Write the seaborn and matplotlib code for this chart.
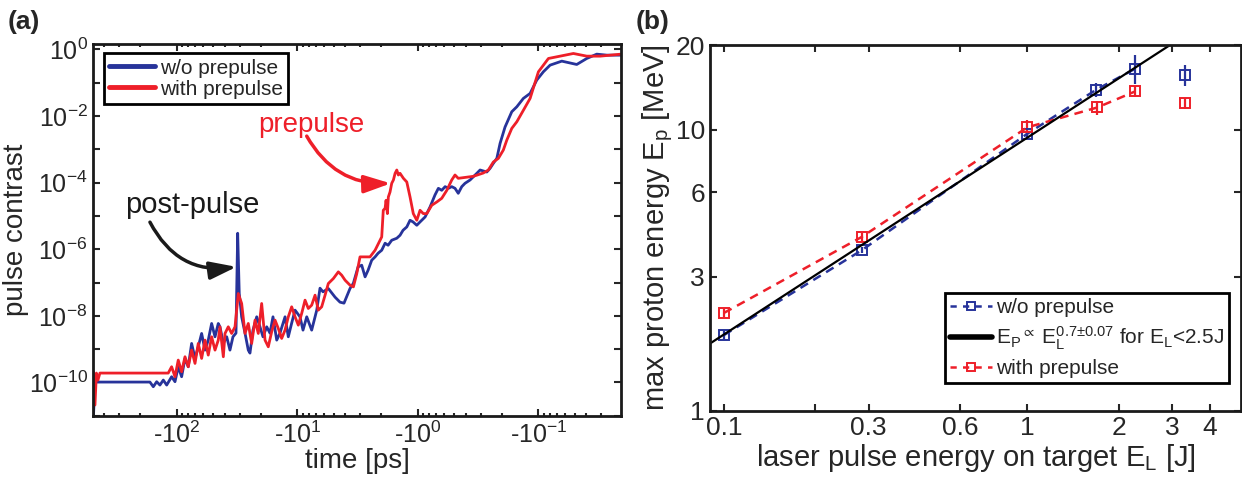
import numpy as np
import matplotlib
matplotlib.use('Agg')
import matplotlib.pyplot as plt
import seaborn as sns
from matplotlib.ticker import FixedLocator, NullLocator, FuncFormatter, LogLocator, NullFormatter
from matplotlib.lines import Line2D

# ---- panel (a): contrast traces, read as log10(|t| / ps) and log10(contrast)
blue_logt = [2.690, 2.678, 2.222, 2.194, 2.166, 2.139, 2.111, 2.083, 2.042, 2.014,
             1.987, 1.959, 1.931, 1.904, 1.876, 1.848, 1.821, 1.793, 1.765, 1.738,
             1.710, 1.682, 1.655, 1.641, 1.613, 1.585, 1.558, 1.533, 1.508, 1.494,
             1.481, 1.461, 1.433, 1.406, 1.392, 1.367, 1.336, 1.309, 1.284, 1.253,
             1.226, 1.201, 1.170, 1.143, 1.101, 1.074, 1.046, 1.018, 0.977, 0.952,
             0.921, 0.880, 0.838, 0.811, 0.786, 0.742, 0.686, 0.645, 0.612, 0.562,
             0.534, 0.495, 0.465, 0.437, 0.412, 0.382, 0.354, 0.329, 0.299, 0.271,
             0.246, 0.216, 0.174, 0.147, 0.122, 0.091, 0.064, 0.039, 0.008, -0.019,
             -0.061, -0.102, -0.143, -0.171, -0.199, -0.227, -0.254, -0.282, -0.309, -0.336,
             -0.365, -0.392, -0.434, -0.490, -0.517, -0.573, -0.600, -0.627, -0.656, -0.683,
             -0.724, -0.780, -0.822, -0.876, -0.932, -0.987, -1.042, -1.098, -1.195, -1.319,
             -1.402, -1.485, -1.568, -1.687]
blue_logc = [-10.98, -9.99, -9.99, -10.13, -9.98, -10.08, -9.93, -10.08, -9.83, -9.98,
             -9.53, -9.83, -9.28, -9.53, -8.83, -9.28, -8.93, -8.53, -9.03, -8.73,
             -8.23, -8.63, -8.23, -8.33, -8.82, -8.63, -9.03, -8.63, -8.52, -5.52,
             -7.33, -8.03, -8.52, -9.03, -9.12, -8.43, -8.03, -8.33, -8.63, -8.33,
             -8.52, -8.03, -8.73, -8.52, -8.03, -8.63, -8.22, -7.83, -8.03, -8.43,
             -8.03, -8.43, -7.83, -7.17, -7.28, -7.18, -7.44, -7.59, -7.62, -7.18,
             -7.02, -6.53, -6.48, -6.83, -6.63, -6.33, -6.23, -6.12, -6.03, -5.82,
             -5.88, -5.73, -5.67, -5.58, -5.43, -5.33, -5.13, -5.18, -5.28, -5.18,
             -5.03, -4.73, -4.37, -4.17, -4.23, -4.12, -4.17, -4.12, -4.17, -4.32,
             -4.12, -4.02, -3.92, -3.72, -3.62, -3.68, -3.57, -3.42, -3.27, -2.82,
             -2.33, -1.87, -1.72, -1.47, -1.32, -0.92, -0.67, -0.47, -0.35, -0.45,
             -0.27, -0.14, -0.17, -0.17]

red_logt = [2.690, 2.678, 2.666, 2.653, 2.637, 2.070, 2.042, 2.014, 1.987, 1.959,
            1.931, 1.904, 1.876, 1.848, 1.821, 1.793, 1.765, 1.738, 1.710, 1.682,
            1.655, 1.641, 1.613, 1.599, 1.572, 1.544, 1.516, 1.489, 1.461, 1.433,
            1.406, 1.378, 1.350, 1.323, 1.295, 1.267, 1.240, 1.212, 1.184, 1.157,
            1.129, 1.101, 1.074, 1.046, 1.018, 0.991, 0.963, 0.935, 0.908, 0.880,
            0.852, 0.825, 0.797, 0.769, 0.742, 0.700, 0.659, 0.631, 0.603, 0.562,
            0.534, 0.506, 0.479, 0.396, 0.354, 0.299, 0.286, 0.271, 0.263, 0.252,
            0.244, 0.230, 0.216, 0.202, 0.188, 0.174, 0.161, 0.147, 0.119, 0.091,
            0.064, 0.037, 0.008, -0.019, -0.046, -0.075, -0.116, -0.158, -0.199, -0.241,
            -0.282, -0.309, -0.336, -0.461, -0.544, -0.586, -0.627, -0.669, -0.710, -0.739,
            -0.780, -0.822, -0.863, -0.932, -1.001, -1.084, -1.181, -1.291, -1.402, -1.513,
            -1.687]
red_logc = [-9.68, -10.68, -9.72, -9.93, -9.72, -9.72, -9.53, -9.83, -9.33, -9.68,
            -9.23, -9.53, -9.03, -9.43, -8.83, -9.28, -8.73, -9.18, -8.63, -9.03,
            -8.73, -8.33, -9.23, -8.53, -8.33, -8.53, -8.33, -7.33, -7.63, -8.53,
            -8.23, -8.83, -8.13, -8.53, -7.63, -8.73, -8.93, -8.48, -8.13, -8.38,
            -8.68, -8.43, -8.03, -7.73, -8.03, -8.28, -7.93, -7.53, -7.78, -7.68,
            -7.38, -7.83, -7.73, -7.38, -7.03, -6.88, -6.68, -6.78, -6.93, -7.08,
            -7.13, -6.73, -6.23, -6.23, -6.03, -5.63, -4.83, -4.77, -4.53, -4.93,
            -4.43, -4.28, -4.02, -3.92, -3.72, -3.62, -3.77, -3.72, -3.87, -3.98,
            -4.43, -4.93, -5.13, -4.83, -4.93, -4.93, -4.68, -4.58, -4.47, -4.23,
            -3.92, -3.77, -3.87, -3.81, -3.71, -3.62, -3.38, -3.27, -3.02, -2.72,
            -2.37, -2.17, -1.91, -1.47, -0.67, -0.27, -0.20, -0.12, -0.20, -0.20,
            -0.14]

# ---- panel (b): max proton energy vs laser energy on target
energy_blue = [0.1, 0.285, 1.0, 1.69, 2.27]
proton_blue = [1.86, 3.73, 9.68, 13.9, 16.5]
err_blue = [0.06, 0.1, 0.3, 0.8, 1.9]
energy_red = [0.1, 0.285, 1.0, 1.70, 2.27]
proton_red = [2.23, 4.16, 10.2, 12.0, 13.7]
err_red = [0.08, 0.15, 0.6, 0.7, 0.65]
# shots above 2.5 J: markers only
energy_hi = [3.32]
proton_hi_blue = [15.7]
err_hi_blue = [1.35]
proton_hi_red = [12.4]
err_hi_red = [0.55]
# power-law fit E_p ~ E_L^0.7, end points of the drawn line
fit_energy = [0.0903, 2.95]
fit_proton = [1.74, 20.0]

BLUE = '#27339a'
RED = '#ee1f29'

sns.set_style('ticks')
plt.rcParams['font.family'] = ['Liberation Sans', 'DejaVu Sans']
plt.rcParams['mathtext.fontset'] = 'custom'
plt.rcParams['mathtext.rm'] = 'Liberation Sans'
plt.rcParams['mathtext.it'] = 'Liberation Sans:italic'
plt.rcParams['mathtext.bf'] = 'Liberation Sans:bold'
plt.rcParams['mathtext.default'] = 'regular'

fig = plt.figure(figsize=(12.42, 4.8), dpi=100)
axa = fig.add_axes([0.0751, 0.134, 0.4249, 0.774])
axb = fig.add_axes([0.572, 0.144, 0.427, 0.762])

# ---------- (a)
sns.lineplot(x=10 ** np.array(blue_logt), y=10 ** np.array(blue_logc), ax=axa,
             sort=False, estimator=None, color=BLUE, lw=2.0)
sns.lineplot(x=10 ** np.array(red_logt), y=10 ** np.array(red_logc), ax=axa,
             sort=False, estimator=None, color=RED, lw=2.0)
axa.set_xscale('log')
axa.set_yscale('log')
axa.set_xlim(492, 0.0206)
axa.set_ylim(1e-11, 10 ** 0.16)
axa.xaxis.set_major_locator(FixedLocator([100, 10, 1, 0.1]))
axa.xaxis.set_major_formatter(FuncFormatter(lambda v, p: '-10$^{%d}$' % round(np.log10(v))))
axa.xaxis.set_minor_locator(LogLocator(base=10, subs=np.arange(2, 10)))
axa.xaxis.set_minor_formatter(NullFormatter())
axa.yaxis.set_major_locator(FixedLocator(10.0 ** np.arange(-11, 1)))
axa.yaxis.set_major_formatter(FuncFormatter(
    lambda v, p: ('10$^{%d}$' % round(np.log10(v))) if round(np.log10(v)) % 2 == 0 and round(np.log10(v)) > -11 else ''))
axa.yaxis.set_minor_locator(NullLocator())
axa.tick_params(which='both', direction='in', top=True, right=True, labelsize=18, width=1.5)
axa.tick_params(which='major', length=5, pad=4)
axa.tick_params(which='minor', length=2.5)
axa.set_xlabel('time [ps]', fontsize=20, labelpad=0)
axa.set_ylabel('pulse contrast', fontsize=20, labelpad=0)

hl = [Line2D([], [], color=BLUE, lw=3.5), Line2D([], [], color=RED, lw=3.5)]
leg = axa.legend(hl, ['w/o prepulse', 'with prepulse'], loc='upper left',
                 bbox_to_anchor=(0.0203, 0.975), borderaxespad=0, fontsize=15,
                 frameon=True, fancybox=False, framealpha=1, edgecolor='black',
                 handlelength=2.2, handletextpad=0.25, labelspacing=0.1, borderpad=0.25)
leg.get_frame().set_linewidth(2)

axa.text(74.6, 2.1e-5, 'post-pulse', fontsize=21, color='#1a1a1a', ha='center', va='center')
axa.annotate('', xy=(31.9, 2.95e-7), xytext=(166.6, 6.5e-6),
             arrowprops=dict(arrowstyle='-|>,head_length=0.9,head_width=0.3', color='#1a1a1a',
                             lw=2.5, mutation_scale=18, shrinkA=0, shrinkB=0,
                             connectionstyle='arc3,rad=0.35'))
axa.text(7.6, 5.3e-3, 'prepulse', fontsize=20, color=RED, ha='center', va='center')
axa.annotate('', xy=(1.675, 9.5e-5), xytext=(8.34, 2.5e-3),
             arrowprops=dict(arrowstyle='-|>,head_length=0.9,head_width=0.3', color=RED,
                             lw=2.5, mutation_scale=18, shrinkA=0, shrinkB=0,
                             connectionstyle='arc3,rad=0.3'))

# ---------- (b)
axb.errorbar(energy_blue + energy_hi, proton_blue + proton_hi_blue, yerr=err_blue + err_hi_blue,
             fmt='none', ecolor=BLUE, elinewidth=1.6, capsize=0)
axb.errorbar(energy_red + energy_hi, proton_red + proton_hi_red, yerr=err_red + err_hi_red,
             fmt='none', ecolor=RED, elinewidth=1.6, capsize=0)
mk = dict(marker='s', markersize=7.5, markerfacecolor='none', markeredgewidth=1.4)
sns.lineplot(x=energy_blue, y=proton_blue, ax=axb, sort=False, estimator=None, color=BLUE,
             lw=1.8, linestyle=(0, (3.5, 2.5)), markeredgecolor=BLUE, **mk)
sns.lineplot(x=energy_red, y=proton_red, ax=axb, sort=False, estimator=None, color=RED,
             lw=1.8, linestyle=(0, (3.5, 2.5)), markeredgecolor=RED, **mk)
axb.plot(energy_hi, proton_hi_blue, ls='none', color=BLUE, markeredgecolor=BLUE, **mk)
axb.plot(energy_hi, proton_hi_red, ls='none', color=RED, markeredgecolor=RED, **mk)
sns.lineplot(x=fit_energy, y=fit_proton, ax=axb, sort=False, estimator=None, color='black', lw=1.6)

axb.set_xscale('log')
axb.set_yscale('log')
axb.set_xlim(0.0903, 5.05)
axb.set_ylim(1, 20)
axb.xaxis.set_major_locator(FixedLocator([0.1, 0.2, 0.3, 0.6, 1, 2, 3, 4]))
axb.xaxis.set_major_formatter(FuncFormatter(
    lambda v, p: {0.1: '0.1', 0.3: '0.3', 0.6: '0.6', 1: '1', 2: '2', 3: '3', 4: '4'}.get(round(v, 2), '')))
axb.xaxis.set_minor_locator(NullLocator())
axb.yaxis.set_major_locator(FixedLocator([1, 3, 6, 10, 20]))
axb.yaxis.set_major_formatter(FuncFormatter(lambda v, p: '%g' % v))
axb.yaxis.set_minor_locator(NullLocator())
axb.tick_params(which='both', direction='in', top=True, right=True, labelsize=19,
                width=1.5, length=5, pad=4)
axb.set_xlabel(r'laser pulse energy on target E$_L$ [J]', fontsize=21, labelpad=1)
axb.set_ylabel(r'max proton energy E$_p$ [MeV]', fontsize=21, labelpad=0)

hb = [Line2D([], [], color=BLUE, lw=1.8, ls=(0, (2.5, 2.5)), markeredgecolor=BLUE, **dict(mk, markersize=6)),
      Line2D([], [], color='black', lw=4),
      Line2D([], [], color=RED, lw=1.8, ls=(0, (2.5, 2.5)), markeredgecolor=RED, **dict(mk, markersize=6))]
lb = ['w/o prepulse',
      r'E$_P$$^{\propto}$ E$_L^{0.7{\pm}0.07}$ for E$_L$<2.5J',
      'with prepulse']
legb = axb.legend(hb, lb, loc='upper left', bbox_to_anchor=(0.442, 0.323), borderaxespad=0,
                  fontsize=15, frameon=True, fancybox=False, framealpha=1, edgecolor='black',
                  handlelength=2.0, handletextpad=0.2, labelspacing=0.35, borderpad=0.25)
legb.get_frame().set_linewidth(2)

for ax in (axa, axb):
    for s in ax.spines.values():
        s.set_linewidth(2)
        s.set_color('#1a1a1a')

fig.text(0.006, 0.979, '(a)', fontsize=19, fontweight='bold', va='top')
fig.text(0.512, 0.979, '(b)', fontsize=19, fontweight='bold', va='top')

fig.savefig('out.png', dpi=100)
